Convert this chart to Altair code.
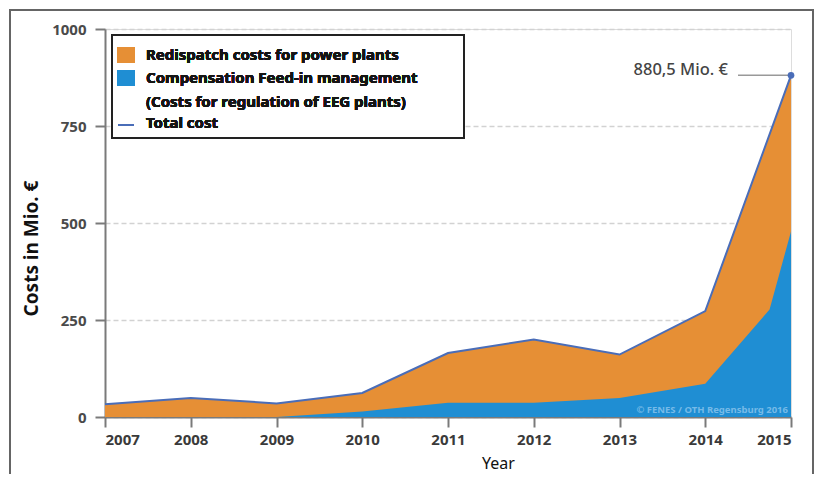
import altair as alt
import pandas as pd

# ---- data ----
years = [2007, 2008, 2009, 2010, 2011, 2012, 2013, 2014, 2015]
total_cost = [33, 49, 35, 62, 165, 200, 161, 273, 880.5]
feedin_years = [2009, 2010, 2011, 2012, 2013, 2014, 2014.75, 2015]
feedin_cost = [0, 14, 37, 37, 49, 86, 277, 478]
y_ticks = [0, 250, 500, 750, 1000]
legend_labels = ["Redispatch costs for power plants",
                 "Compensation Feed-in management",
                 "(Costs for regulation of EEG plants)",
                 "Total cost"]
annotation = "880,5 Mio. €"
watermark = "© FENES / OTH Regensburg 2016"

ORANGE = "#E68F35"
BLUE = "#1F8ED3"
LINE = "#4A6DB8"
FONT = "Noto Sans"

W, H = 686, 388

tot = pd.DataFrame({"Year": years, "Cost": total_cost})
fed = pd.DataFrame({"Year": feedin_years, "Cost": feedin_cost})
last = pd.DataFrame({"Year": [years[-1]], "Cost": [total_cost[-1]], "label": [annotation]})

xenc = alt.X("Year:Q", scale=alt.Scale(domain=[2007, 2015], nice=False, zero=False),
             axis=alt.Axis(values=years, format="d", title="Year", grid=False,
                           domainColor="#7a7a7a", domainWidth=2, tickColor="#7a7a7a",
                           tickWidth=2, tickSize=10, labelFontSize=15, labelColor="#3a3a3a",
                           labelFontWeight="bold", labelPadding=5, labelFont=FONT,
                           titleFont=FONT, titleFontSize=16, titleFontWeight="normal",
                           titleColor="#111", titleX=393, titleY=46, titleBaseline="middle"))
yenc = alt.Y("Cost:Q", scale=alt.Scale(domain=[0, 1000], nice=False),
             axis=alt.Axis(values=y_ticks, format="d", title="Costs in Mio. €", grid=True,
                           gridDash=[5, 3], gridColor="#d2d2d2", gridWidth=1.5,
                           domainColor="#7a7a7a", domainWidth=2, tickColor="#7a7a7a",
                           tickWidth=2, tickSize=10, labelFontSize=15, labelColor="#4a4a4a",
                           labelFontWeight="bold", labelPadding=9, labelFont=FONT,
                           titleFont=FONT, titleFontSize=19, titleFontWeight="bold",
                           titleColor="#111", titleX=-74, titleY=219, titleBaseline="middle"))

frame = alt.Chart(tot).mark_rect(fill=None, stroke="#666", strokeWidth=1.5).encode(
    x=alt.value(-95), x2=alt.value(708), y=alt.value(-19), y2=alt.value(600))

orange_area = alt.Chart(tot).mark_area(color=ORANGE, opacity=1).encode(x=xenc, y=yenc)
blue_area = alt.Chart(fed).mark_area(color=BLUE, opacity=1).encode(x="Year:Q", y="Cost:Q")
total_line = alt.Chart(tot).mark_line(color=LINE, strokeWidth=2).encode(x="Year:Q", y="Cost:Q")

lead = alt.Chart(last).mark_rule(color="#999", strokeWidth=1.5).encode(
    x="Year:Q", x2=alt.value(633), y="Cost:Q")
dot = alt.Chart(last).mark_circle(color=LINE, size=45, opacity=1).encode(x="Year:Q", y="Cost:Q")
ann = alt.Chart(last).mark_text(align="right", baseline="middle", dx=-63, dy=-5,
                                fontSize=16.5, font=FONT, fontWeight=500, color="#444").encode(
    x="Year:Q", y="Cost:Q", text="label:N")

wm = alt.Chart(last).mark_text(align="right", baseline="middle", fontSize=9.5, font=FONT,
                               fontWeight="bold", color="#8cc6ee", opacity=0.8).encode(
    x=alt.value(683), y=alt.value(-7 + H), text=alt.value(watermark))

# manual legend box
leg_box = alt.Chart(tot).mark_rect(fill="white", stroke="#222", strokeWidth=2).encode(
    x=alt.value(7), x2=alt.value(359), y=alt.value(6), y2=alt.value(109))
sq1 = alt.Chart(tot).mark_rect(color=ORANGE).encode(
    x=alt.value(12), x2=alt.value(30), y=alt.value(18), y2=alt.value(34))
sq2 = alt.Chart(tot).mark_rect(color=BLUE).encode(
    x=alt.value(12), x2=alt.value(30), y=alt.value(41), y2=alt.value(57))
ln = alt.Chart(tot).mark_rule(color=LINE, strokeWidth=2).encode(
    x=alt.value(13), x2=alt.value(29), y=alt.value(96))
texts = []
for lab, yy in zip(legend_labels, [26, 49, 73, 94]):
    texts.append(alt.Chart(tot).mark_text(align="left", baseline="middle", fontSize=15,
                                           font=FONT, fontWeight="bold", color="#151515").encode(
        x=alt.value(41), y=alt.value(yy), text=alt.value(lab)))

chart = alt.layer(frame, orange_area, blue_area, total_line, lead, dot, ann, wm,
                  leg_box, sq1, sq2, ln, *texts).properties(
    width=W, height=H,
    autosize=alt.AutoSizeParams(type="none"),
    padding={"left": 97, "top": 21, "right": 24, "bottom": 57},
).configure_view(stroke=None).configure(background="white")

chart.save("out.html", embed_options={"renderer": "svg", "actions": False})
